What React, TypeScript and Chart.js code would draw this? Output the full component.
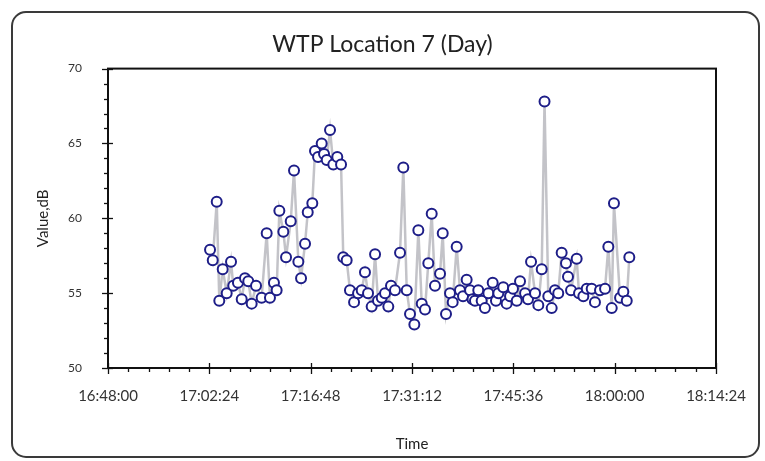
import React, { useEffect, useRef } from 'react';
import { Chart, registerables } from 'chart.js';

Chart.register(...registerables);

const TITLE = 'WTP Location 7 (Day)';
const X_TITLE = 'Time';
const Y_TITLE = 'Value,dB';

const X_MIN = '16:48:00';
const X_MAX = '18:14:24';
const X_STEP_SECONDS = 864;
const Y_MIN = 50;
const Y_MAX = 70;
const Y_STEP = 5;

const times = [
  '17:02:30', '17:02:53', '17:03:27', '17:03:49', '17:04:18', '17:04:52', '17:05:29', '17:05:48', '17:06:28', '17:07:00',
  '17:07:28', '17:07:56', '17:08:25', '17:09:02', '17:09:50', '17:10:33', '17:11:01', '17:11:35', '17:11:58', '17:12:21',
  '17:12:55', '17:13:18', '17:13:58', '17:14:26', '17:15:03', '17:15:26', '17:16:00', '17:16:23', '17:17:02', '17:17:25',
  '17:17:51', '17:18:22', '17:18:42', '17:19:05', '17:19:33', '17:20:01', '17:20:35', '17:21:07', '17:21:26', '17:21:55',
  '17:22:23', '17:22:58', '17:23:32', '17:24:03', '17:24:31', '17:24:57', '17:25:28', '17:25:57', '17:26:22', '17:26:54',
  '17:27:22', '17:27:50', '17:28:13', '17:28:47', '17:29:30', '17:29:58', '17:30:27', '17:30:55', '17:31:32', '17:32:06',
  '17:32:35', '17:33:03', '17:33:31', '17:34:00', '17:34:28', '17:35:11', '17:35:34', '17:36:02', '17:36:36', '17:36:59',
  '17:37:33', '17:38:01', '17:38:27', '17:38:58', '17:39:27', '17:39:48', '17:40:09', '17:40:37', '17:41:06', '17:41:34',
  '17:42:03', '17:42:40', '17:43:08', '17:43:28', '17:44:10', '17:44:39', '17:45:08', '17:45:33', '17:46:05', '17:46:33',
  '17:47:16', '17:47:41', '17:48:07', '17:48:41', '17:49:09', '17:49:38', '17:50:02', '17:50:34', '17:51:03', '17:51:31',
  '17:51:59', '17:52:28', '17:53:05', '17:53:22', '17:53:48', '17:54:36', '17:54:56', '17:55:33', '17:56:02', '17:56:44',
  '17:57:12', '17:57:55', '17:58:38', '17:59:06', '17:59:35', '17:59:54', '18:00:46', '18:01:14', '18:01:43', '18:02:05',
];

const values = [
  57.9, 57.2, 61.1, 54.5, 56.6, 55.0, 57.1, 55.5, 55.7, 54.6,
  56.0, 55.8, 54.3, 55.5, 54.7, 59.0, 54.7, 55.7, 55.2, 60.5,
  59.1, 57.4, 59.8, 63.2, 57.1, 56.0, 58.3, 60.4, 61.0, 64.5,
  64.1, 65.0, 64.3, 63.9, 65.9, 63.6, 64.1, 63.6, 57.4, 57.2,
  55.2, 54.4, 55.0, 55.2, 56.4, 55.0, 54.1, 57.6, 54.5, 54.7,
  55.0, 54.1, 55.5, 55.2, 57.7, 63.4, 55.2, 53.6, 52.9, 59.2,
  54.3, 53.9, 57.0, 60.3, 55.5, 56.3, 59.0, 53.6, 55.0, 54.4,
  58.1, 55.2, 54.8, 55.9, 55.2, 54.6, 54.5, 55.2, 54.5, 54.0,
  55.0, 55.7, 54.5, 55.0, 55.4, 54.3, 54.8, 55.3, 54.5, 55.8,
  55.0, 54.6, 57.1, 55.0, 54.2, 56.6, 67.8, 54.8, 54.0, 55.2,
  55.0, 57.7, 57.0, 56.1, 55.2, 57.3, 55.0, 54.8, 55.3, 55.3,
  54.4, 55.2, 55.3, 58.1, 54.0, 61.0, 54.7, 55.1, 54.5, 57.4,
];

const FONT = 'Lato, "Open Sans", "DejaVu Sans", sans-serif';

function toSec(t: string): number {
  const [h, m, s] = t.split(':').map(Number);
  return h * 3600 + m * 60 + s;
}

function fmtTime(sec: number): string {
  const v = Math.round(sec);
  const h = Math.floor(v / 3600);
  const m = Math.floor((v % 3600) / 60);
  const s = v % 60;
  const p = (n: number) => String(n).padStart(2, '0');
  return `${p(h)}:${p(m)}:${p(s)}`;
}

const framePlugin = {
  id: 'framePlugin',
  beforeDraw(chart: any) {
    const { ctx } = chart;
    ctx.save();
    ctx.fillStyle = '#ffffff';
    ctx.fillRect(0, 0, chart.width, chart.height);
    ctx.strokeStyle = '#3a3a3a';
    ctx.lineWidth = 2;
    ctx.beginPath();
    ctx.roundRect(12, 12, 747, 445, 14);
    ctx.stroke();
    ctx.restore();
  },
  afterDatasetsDraw(chart: any) {
    const { ctx, chartArea: a, scales } = chart;
    const x = scales.x;
    const y = scales.y;
    ctx.save();
    ctx.strokeStyle = '#111111';
    ctx.lineWidth = 2;
    ctx.strokeRect(a.left, a.top, a.right - a.left, a.bottom - a.top);
    ctx.lineWidth = 1.3;
    const xmin = toSec(X_MIN);
    const xmax = toSec(X_MAX);
    const xMinor = X_STEP_SECONDS / 5;
    const nx = Math.round((xmax - xmin) / xMinor);
    for (let i = 0; i <= nx; i++) {
      const px = Math.round(x.getPixelForValue(xmin + i * xMinor)) + 0.5;
      const major = i % 5 === 0;
      ctx.beginPath();
      ctx.moveTo(px, major ? a.bottom - 5 : a.bottom);
      ctx.lineTo(px, a.bottom + (major ? 6 : 4));
      ctx.stroke();
    }
    const ny = Y_MAX - Y_MIN;
    for (let i = 0; i <= ny; i++) {
      const v = Y_MIN + i;
      const py = Math.round(y.getPixelForValue(v)) + 0.5;
      const major = (v - Y_MIN) % Y_STEP === 0;
      ctx.beginPath();
      ctx.moveTo(a.left - (major ? 6 : 4), py);
      ctx.lineTo(major ? a.left + 5 : a.left, py);
      ctx.stroke();
    }
    ctx.restore();
  },
};

export default function App() {
  const ref = useRef<HTMLCanvasElement | null>(null);

  useEffect(() => {
    if (!ref.current) return;
    const data = times.map((t, i) => ({ x: toSec(t), y: values[i] }));
    const chart = new Chart(ref.current, {
      type: 'line',
      data: {
        datasets: [
          {
            data,
            borderColor: 'rgba(185,185,190,0.85)',
            borderWidth: 2.5,
            pointRadius: 5,
            pointBorderWidth: 2,
            pointBorderColor: '#1e1e88',
            pointBackgroundColor: '#ffffff',
            tension: 0,
            fill: false,
          },
        ],
      },
      options: {
        responsive: false,
        animation: false,
        events: [],
        layout: { padding: { left: 0, right: 0, top: 0, bottom: 0 } },
        plugins: {
          legend: { display: false },
          tooltip: { enabled: false },
          title: {
            display: true,
            text: TITLE,
            color: '#222222',
            font: { family: FONT, size: 23, weight: 'normal' },
            padding: { top: 31, bottom: 10 },
          },
        },
        scales: {
          x: {
            type: 'linear',
            min: toSec(X_MIN),
            max: toSec(X_MAX),
            grid: { display: false },
            border: { display: false },
            ticks: {
              stepSize: X_STEP_SECONDS,
              autoSkip: false,
              maxRotation: 0,
              padding: 11,
              color: '#333333',
              font: { family: FONT, size: 15 },
              callback: (v: any) => fmtTime(Number(v)),
            },
            title: {
              display: true,
              text: X_TITLE,
              color: '#222222',
              font: { family: FONT, size: 15 },
              padding: { top: 0, bottom: 8 },
            },
            afterFit: (s: any) => {
              s.height = 93;
            },
          },
          y: {
            type: 'linear',
            min: Y_MIN,
            max: Y_MAX,
            grid: { display: false },
            border: { display: false },
            ticks: {
              stepSize: Y_STEP,
              padding: 18,
              color: '#333333',
              font: { family: FONT, size: 12 },
            },
            title: {
              display: true,
              text: Y_TITLE,
              color: '#222222',
              font: { family: FONT, size: 15 },
              padding: { top: 34, bottom: 0 },
            },
            afterFit: (s: any) => {
              s.width = 108;
            },
          },
          yPad: {
            type: 'linear',
            position: 'right',
            min: 0,
            max: 1,
            grid: { display: false },
            border: { display: false },
            ticks: { display: false },
            afterFit: (s: any) => {
              s.width = 49;
            },
          },
        },
      },
      plugins: [framePlugin],
    } as any);
    return () => chart.destroy();
  }, []);

  return (
    <div style={{ position: 'absolute', left: 0, top: 0, width: 765, height: 461 }}>
      <canvas ref={ref} width={765} height={461} style={{ width: 765, height: 461, display: 'block' }} />
    </div>
  );
}
